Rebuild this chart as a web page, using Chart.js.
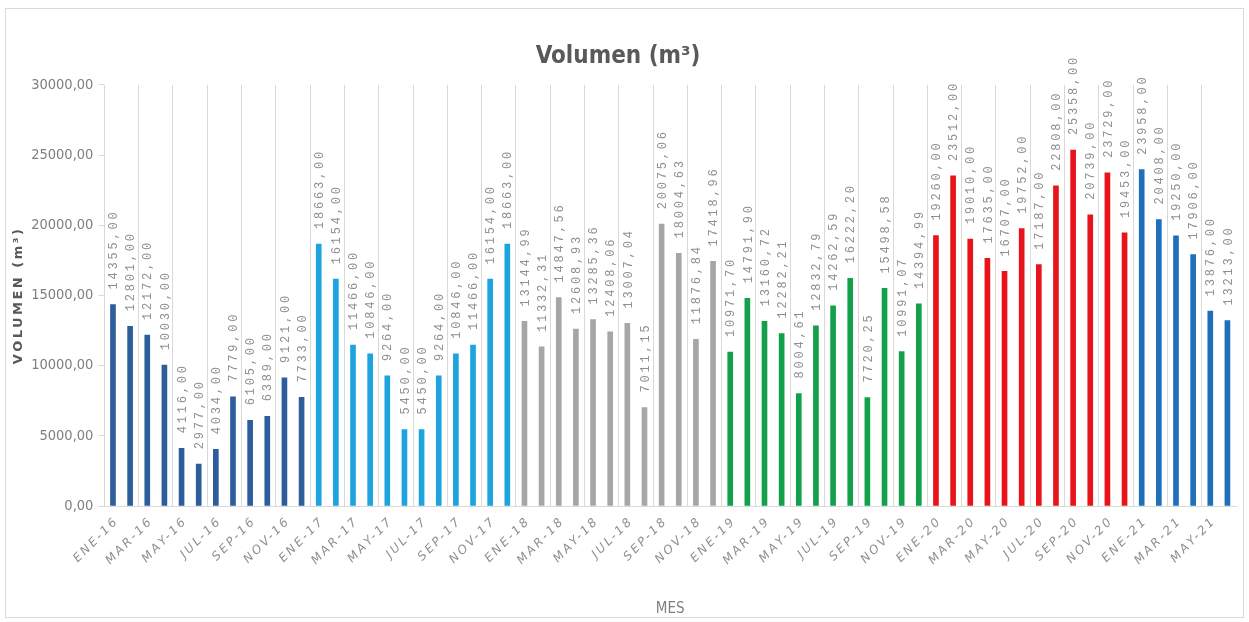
<!DOCTYPE html>
<html><head><meta charset="utf-8">
<script src="https://cdn.jsdelivr.net/npm/chart.js@4.4.1/dist/chart.umd.min.js"></script>
<style>html,body{margin:0;padding:0;background:#fff;}canvas{display:block;}</style>
</head><body>
<canvas id="c" width="1249" height="622"></canvas>
<script>
// ---- data ----
const categories = [
 'ENE-16','FEB-16','MAR-16','ABR-16','MAY-16','JUN-16','JUL-16','AGO-16','SEP-16','OCT-16','NOV-16','DIC-16',
 'ENE-17','FEB-17','MAR-17','ABR-17','MAY-17','JUN-17','JUL-17','AGO-17','SEP-17','OCT-17','NOV-17','DIC-17',
 'ENE-18','FEB-18','MAR-18','ABR-18','MAY-18','JUN-18','JUL-18','AGO-18','SEP-18','OCT-18','NOV-18','DIC-18',
 'ENE-19','FEB-19','MAR-19','ABR-19','MAY-19','JUN-19','JUL-19','AGO-19','SEP-19','OCT-19','NOV-19','DIC-19',
 'ENE-20','FEB-20','MAR-20','ABR-20','MAY-20','JUN-20','JUL-20','AGO-20','SEP-20','OCT-20','NOV-20','DIC-20',
 'ENE-21','FEB-21','MAR-21','ABR-21','MAY-21','JUN-21'
];
const vol2016 = [14355, 12801, 12172, 10030, 4116, 2977, 4034, 7779, 6105, 6389, 9121, 7733];
const vol2017 = [18663, 16154, 11466, 10846, 9264, 5450, 5450, 9264, 10846, 11466, 16154, 18663];
const vol2018 = [13144.99, 11332.31, 14847.56, 12608.93, 13285.36, 12408.06, 13007.04, 7011.15, 20075.06, 18004.63, 11876.84, 17418.96];
const vol2019 = [10971.70, 14791.90, 13160.72, 12282.21, 8004.61, 12832.79, 14262.59, 16222.20, 7720.25, 15498.58, 10991.07, 14394.99];
const vol2020 = [19260, 23512, 19010, 17635, 16707, 19752, 17187, 22808, 25358, 20739, 23729, 19453];
const vol2021 = [23958, 20408, 19250, 17906, 13876, 13213];
const yearSeries = [vol2016, vol2017, vol2018, vol2019, vol2020, vol2021];
const yearColors = ['#2E5D9C', '#1DA4DE', '#A6A6A6', '#13A04B', '#E8141B', '#1F6FBA'];
const yTickValues = [0, 5000, 10000, 15000, 20000, 25000, 30000];

const values = [].concat(...yearSeries);
const barColors = [];
yearSeries.forEach((s, i) => s.forEach(() => barColors.push(yearColors[i])));
const fmt = v => v.toFixed(2).replace('.', ',');

// ---- scales with letter spacing ----
class SpacedCategoryScale extends Chart.CategoryScale {
  drawLabels(area) {
    const ctx = this.ctx; ctx.save(); ctx.letterSpacing = '2.5px';
    super.drawLabels(area); ctx.restore();
  }
}
SpacedCategoryScale.id = 'spacedCategory';
SpacedCategoryScale.defaults = Chart.CategoryScale.defaults;
class SpacedLinearScale extends Chart.LinearScale {
  drawTitle() {
    const ctx = this.ctx; ctx.save(); ctx.letterSpacing = '2.5px';
    super.drawTitle(); ctx.restore();
  }
}
SpacedLinearScale.id = 'spacedLinear';
SpacedLinearScale.defaults = Chart.LinearScale.defaults;
Chart.register(SpacedCategoryScale, SpacedLinearScale);

const framePlugin = {
  id: 'frame',
  beforeDraw(chart) {
    const ctx = chart.ctx; ctx.save();
    ctx.fillStyle = '#fff'; ctx.fillRect(0, 0, chart.width, chart.height);
    ctx.strokeStyle = '#d9d9d9'; ctx.lineWidth = 1;
    ctx.strokeRect(5.5, 8.5, chart.width - 11, chart.height - 13);
    ctx.restore();
  }
};
const labelPlugin = {
  id: 'barLabels',
  afterDatasetsDraw(chart) {
    const ctx = chart.ctx;
    const meta = chart.getDatasetMeta(0);
    ctx.save();
    ctx.font = '12px "Liberation Mono", "DejaVu Sans Mono", monospace';
    ctx.letterSpacing = '2.8px';
    ctx.fillStyle = '#8f8f8f';
    ctx.textAlign = 'left'; ctx.textBaseline = 'middle';
    meta.data.forEach((bar, i) => {
      ctx.save();
      ctx.translate(bar.x + 1, bar.y - 15);
      ctx.rotate(-Math.PI / 2);
      ctx.fillText(fmt(values[i]), 0, 0);
      ctx.restore();
    });
    ctx.restore();
  }
};

new Chart(document.getElementById('c'), {
  type: 'bar',
  data: {
    labels: categories,
    datasets: [{ data: values, backgroundColor: barColors, barThickness: 5, borderWidth: 0 }]
  },
  options: {
    responsive: false, animation: false, devicePixelRatio: 1,
    layout: { padding: { left: 0, right: 13, top: 0, bottom: 0 } },
    plugins: {
      legend: { display: false }, tooltip: { enabled: false },
      title: {
        display: true, text: 'Volumen (m³)', color: '#595959',
        font: { family: '"DejaVu Sans Condensed", "DejaVu Sans", sans-serif', size: 24, weight: 'bold' },
        padding: { top: 42, bottom: 14 }
      }
    },
    scales: {
      x: {
        type: 'spacedCategory',
        afterFit(s) { s.height = 116; },
        grid: { offset: true, drawTicks: false, lineWidth: 1,
          color: c => (c.index % 2 === 0 ? '#d9d9d9' : 'rgba(0,0,0,0)') },
        border: { display: true, color: '#d9d9d9' },
        ticks: {
          autoSkip: false, minRotation: 45, maxRotation: 45, padding: 8, labelOffset: 4,
          color: '#8f8f8f',
          font: { family: '"DejaVu Sans", sans-serif', size: 12, style: 'italic' },
          callback(v, i) { return i % 2 === 0 ? categories[i] : ''; }
        },
        title: { display: true, text: 'MES', color: '#7f7f7f',
          font: { family: '"DejaVu Sans Condensed", "DejaVu Sans", sans-serif', size: 15 },
          padding: { top: 2, bottom: 4 } }
      },
      y: {
        type: 'spacedLinear',
        min: 0, max: 30000,
        afterFit(s) { s.width = 104.4; },
        afterBuildTicks(s) { s.ticks = yTickValues.map(v => ({ value: v })); },
        grid: { drawOnChartArea: false, drawTicks: true, tickLength: 6, color: '#d9d9d9' },
        border: { display: false },
        ticks: {
          padding: 5, color: '#7f7f7f',
          font: { family: '"DejaVu Sans Condensed", "DejaVu Sans", sans-serif', size: 14.5 },
          callback: v => fmt(v)
        },
        title: { display: true, text: 'VOLUMEN (m³)', color: '#595959',
          font: { family: '"DejaVu Sans", sans-serif', size: 13, weight: 'bold' },
          padding: { top: 11, bottom: 0 } }
      }
    }
  },
  plugins: [framePlugin, labelPlugin]
});
</script>
</body></html>
